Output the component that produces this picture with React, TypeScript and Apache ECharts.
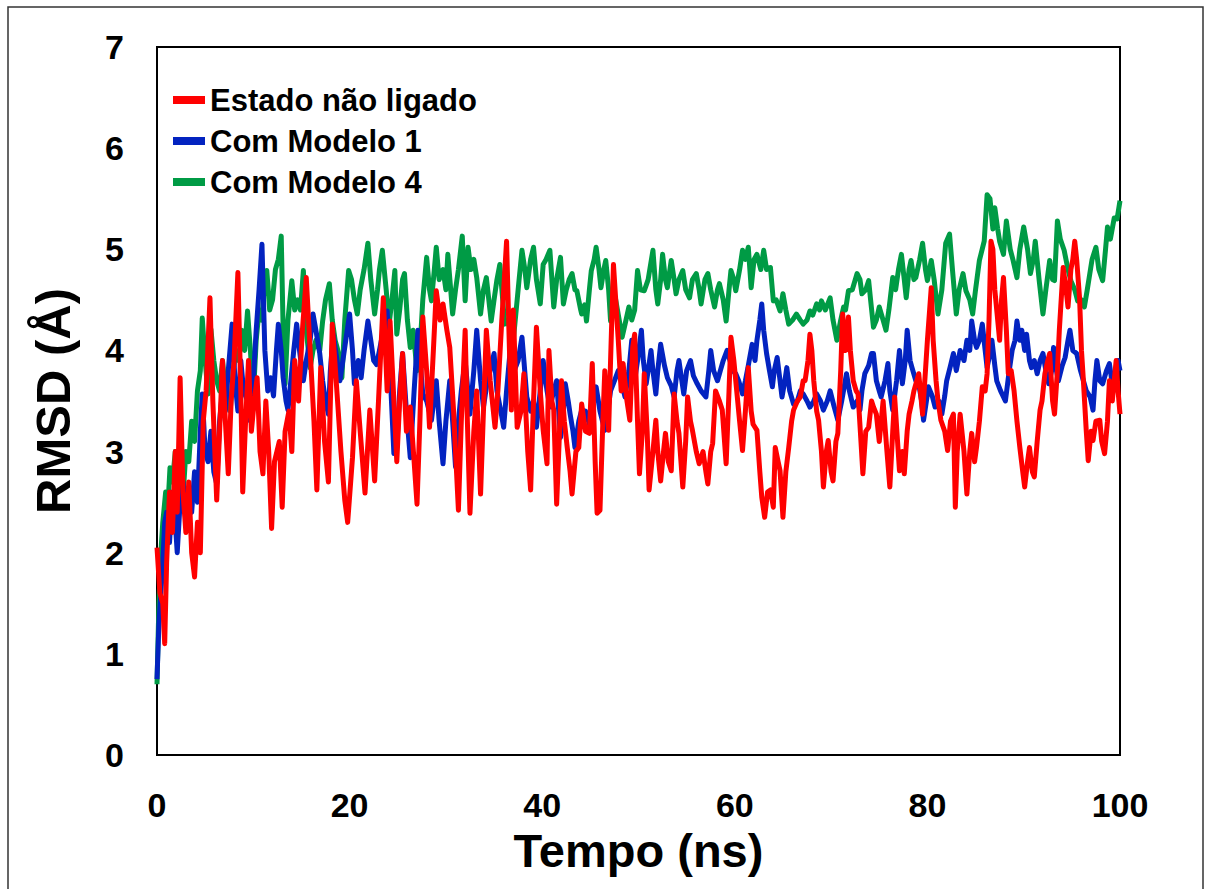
import React, { useEffect, useRef } from "react";
import * as echarts from "echarts";

const seriesNames = ["Estado não ligado", "Com Modelo 1", "Com Modelo 4"];
const xTicks = [0, 20, 40, 60, 80, 100];
const yTicks = [0, 1, 2, 3, 4, 5, 6, 7];

const redT = [
  0, 0.3, 0.6, 0.8, 1.0, 1.3, 1.6, 1.9, 2.1, 2.4, 2.7, 3.0, 3.3, 3.6, 3.9, 4.2, 4.5, 4.8, 5.1, 5.5,
  5.8, 6.2, 6.5, 6.8, 7.1, 7.4, 7.7, 8.0, 8.4, 8.7, 8.9, 9.2, 9.5, 9.8, 10.1, 10.4, 10.7, 11.0, 11.3, 11.6,
  11.9, 12.2, 12.7, 13.0, 13.3, 13.7, 14.0, 14.3, 14.7, 15.1, 15.5, 16.0, 16.3, 16.6, 17.0, 17.4, 17.8, 18.2, 18.7, 19.1,
  19.5, 19.8, 20.3, 20.7, 21.1, 21.6, 22.1, 22.6, 23.0, 23.5, 23.9, 24.2, 24.6, 24.9, 25.2, 25.5, 25.9, 26.3, 26.7, 27.0,
  27.3, 27.6, 28.0, 28.3, 28.7, 29.0, 29.4, 29.7, 30.1, 30.4, 30.8, 31.0, 31.3, 31.6, 32.0, 32.2, 32.5, 32.9, 33.2, 33.6,
  33.9, 34.2, 34.6, 35.1, 35.4, 35.8, 36.0, 36.3, 36.6, 36.8, 37.0, 37.4, 37.8, 38.1, 38.5, 38.8, 39.1, 39.4, 39.8, 40.1,
  40.5, 40.7, 41.0, 41.2, 41.5, 41.8, 42.0, 42.3, 42.6, 42.9, 43.1, 43.5, 43.8, 44.1, 44.5, 44.9, 45.2, 45.5, 45.7, 46.0,
  46.3, 46.5, 46.9, 47.1, 47.4, 47.7, 47.9, 48.2, 48.4, 48.8, 49.1, 49.4, 49.6, 49.9, 50.1, 50.4, 50.6, 50.9, 51.1, 51.5,
  51.8, 52.0, 52.3, 52.6, 52.8, 53.1, 53.4, 53.7, 54.0, 54.2, 54.6, 54.9, 55.1, 55.4, 55.6, 56.0, 56.3, 56.7, 57.0, 57.2,
  57.5, 57.7, 58.0, 58.4, 58.7, 59.1, 59.4, 59.6, 59.9, 60.1, 60.5, 60.8, 61.1, 61.4, 61.7, 61.9, 62.3, 62.6, 62.8, 63.1,
  63.4, 63.7, 64.0, 64.2, 64.5, 64.7, 65.0, 65.3, 65.6, 65.9, 66.1, 66.5, 66.8, 67.1, 67.3, 67.6, 67.8, 68.0, 68.2, 68.5,
  68.7, 69.0, 69.2, 69.5, 69.7, 70.0, 70.2, 70.5, 70.7, 71.0, 71.2, 71.5, 71.8, 72.0, 72.3, 72.6, 72.8, 73.1, 73.3, 73.6,
  73.9, 74.2, 74.4, 74.7, 75.0, 75.4, 75.8, 76.1, 76.4, 76.6, 76.9, 77.1, 77.4, 77.6, 77.9, 78.1, 78.4, 78.6, 78.9, 79.1,
  79.5, 79.8, 80.0, 80.4, 80.6, 80.9, 81.1, 81.4, 81.8, 82.1, 82.4, 82.7, 82.9, 83.1, 83.4, 83.8, 84.1, 84.4, 84.6, 84.9,
  85.1, 85.4, 85.7, 86.0, 86.2, 86.4, 86.6, 86.8, 87.0, 87.2, 87.5, 87.7, 87.9, 88.2, 88.4, 88.7, 89.0, 89.3, 89.6, 89.9,
  90.1, 90.4, 90.6, 90.9, 91.1, 91.4, 91.7, 91.9, 92.2, 92.5, 92.7, 93.0, 93.2, 93.5, 93.7, 94.1, 94.4, 94.6, 94.9, 95.1,
  95.3, 95.5, 95.8, 96.0, 96.2, 96.5, 96.7, 97.0, 97.2, 97.5, 97.9, 98.1, 98.4, 98.7, 98.9, 99.2, 99.6, 99.8, 100,
];
const redV = [
  2.05, 1.6, 1.5, 1.1, 1.9, 2.6, 2.2, 3.0, 2.4, 3.73, 2.6, 2.2, 2.7, 2.0, 1.76, 2.3, 2.0, 3.3, 3.6, 4.52,
  3.5, 2.52, 3.2, 3.9, 3.3, 2.78, 3.5, 3.9, 4.77, 3.6, 2.6, 3.3, 3.9, 3.2, 3.5, 3.73, 3.0, 2.78, 3.5, 3.0,
  2.24, 2.9, 3.1, 2.45, 3.2, 3.4, 3.0, 3.9, 3.5, 4.2, 4.72, 3.83, 3.3, 2.62, 3.83, 3.1, 2.7, 4.26, 3.57, 3.0,
  2.52, 2.3, 2.94, 3.7, 3.2, 2.59, 3.41, 2.71, 3.5, 4.52, 3.6, 4.29, 3.5, 2.9, 3.5, 3.97, 3.2, 3.44, 2.9, 2.48,
  3.3, 4.33, 3.8, 3.24, 4.0, 4.59, 4.3, 4.46, 4.2, 4.03, 3.4, 3.0, 2.42, 3.3, 4.2, 3.4, 2.39, 3.2, 3.6, 2.58,
  3.4, 4.2, 3.7, 3.24, 3.6, 4.29, 4.6, 5.08, 4.0, 3.41, 4.4, 3.24, 3.4, 3.77, 3.0, 2.62, 3.5, 4.23, 3.6, 3.21,
  2.88, 4.0, 3.5, 3.41, 2.48, 3.2, 3.7, 3.3, 3.04, 2.8, 2.58, 3.0, 3.04, 3.47, 3.2, 3.18, 3.87, 2.9, 2.39, 2.42,
  3.3, 3.8, 3.21, 3.9, 4.85, 4.4, 4.1, 3.6, 3.87, 3.5, 3.31, 4.03, 4.16, 3.3, 2.78, 3.2, 3.77, 3.2, 2.62, 3.0,
  3.31, 3.0, 2.71, 3.0, 3.18, 2.9, 2.81, 3.57, 3.3, 3.18, 2.65, 3.1, 3.54, 3.3, 3.21, 3.0, 2.88, 3.0, 2.8, 2.68,
  3.0, 3.08, 3.6, 3.5, 3.41, 2.88, 3.6, 4.13, 3.9, 3.7, 3.3, 3.01, 3.4, 3.83, 3.4, 3.27, 3.21, 2.8, 2.55, 2.35,
  2.6, 2.62, 2.45, 3.04, 2.9, 2.81, 2.35, 2.8, 3.04, 3.3, 3.41, 3.5, 3.54, 3.7, 3.7, 3.9, 4.16, 4.0, 3.7, 3.4,
  3.31, 3.0, 2.65, 3.0, 3.11, 2.8, 2.71, 3.1, 3.18, 3.8, 4.36, 4.0, 4.33, 4.0, 3.7, 3.6, 3.57, 3.1, 2.78, 3.2,
  3.24, 3.5, 3.44, 3.37, 3.1, 3.5, 3.0, 2.65, 3.2, 3.54, 3.1, 2.81, 3.0, 2.78, 3.2, 3.37, 3.5, 3.6, 3.7, 3.77,
  3.37, 3.8, 4.1, 4.62, 4.1, 3.7, 3.5, 3.31, 3.2, 3.01, 3.3, 3.37, 2.45, 3.0, 3.37, 3.0, 2.58, 3.0, 3.18, 2.9,
  3.04, 3.3, 3.64, 3.6, 3.77, 4.3, 5.08, 5.0, 4.6, 4.4, 4.1, 4.5, 4.72, 4.2, 3.77, 3.8, 3.6, 3.3, 3.04, 2.8,
  2.65, 2.9, 3.04, 2.8, 2.75, 3.1, 3.41, 3.5, 3.77, 3.9, 3.97, 3.5, 3.37, 3.8, 4.2, 4.82, 4.6, 4.43, 4.8, 4.9,
  5.08, 4.9, 4.52, 4.0, 3.7, 3.2, 2.91, 3.2, 3.11, 3.3, 3.31, 3.1, 2.98, 3.3, 3.7, 3.5, 3.9, 3.6, 3.37,
];

const blueT = [
  0, 0.2, 0.4, 0.6, 0.8, 1.0, 1.3, 1.6, 1.9, 2.1, 2.4, 2.7, 3.0, 3.3, 3.6, 3.9, 4.2, 4.5, 4.7, 5.0,
  5.3, 5.6, 5.9, 6.2, 6.5, 6.8, 7.1, 7.4, 7.8, 8.1, 8.4, 8.7, 9.0, 9.4, 9.7, 10.0, 10.3, 10.6, 10.9, 11.2,
  11.5, 11.8, 12.1, 12.4, 12.6, 12.9, 13.1, 13.4, 13.6, 14.0, 14.2, 14.5, 14.8, 15.2, 15.5, 15.9, 16.2, 16.5, 16.9, 17.2,
  17.5, 17.8, 18.0, 18.3, 18.7, 19.0, 19.3, 19.6, 20.0, 20.3, 20.5, 20.9, 21.2, 21.5, 21.9, 22.2, 22.5, 22.8, 23.1, 23.5,
  23.9, 24.2, 24.6, 24.9, 25.2, 25.5, 25.9, 26.3, 26.7, 27.1, 27.4, 27.6, 28.0, 28.5, 29.0, 29.3, 29.7, 30.0, 30.4, 30.7,
  31.0, 31.3, 31.6, 32.0, 32.5, 32.9, 33.2, 33.6, 33.9, 34.3, 34.6, 35.0, 35.3, 35.7, 36.0, 36.3, 36.7, 37.1, 37.5, 37.9,
  38.1, 38.4, 38.8, 39.1, 39.4, 39.8, 40.1, 40.5, 40.8, 41.2, 41.5, 41.9, 42.2, 42.4, 42.7, 42.9, 43.2, 43.4, 43.8, 44.1,
  44.5, 44.9, 45.3, 45.6, 46.0, 46.5, 46.8, 47.1, 47.5, 47.9, 48.2, 48.6, 49.0, 49.3, 49.6, 49.9, 50.3, 50.5, 50.8, 51.0,
  51.3, 51.5, 51.8, 52.0, 52.3, 52.7, 53.0, 53.4, 53.7, 54.0, 54.2, 54.5, 54.7, 55.0, 55.4, 55.7, 56.1, 56.5, 57.0, 57.3,
  57.5, 57.8, 58.2, 58.5, 58.8, 59.2, 59.5, 59.8, 60.1, 60.4, 60.8, 61.1, 61.4, 61.8, 62.1, 62.3, 62.6, 62.8, 63.0, 63.3,
  63.6, 63.9, 64.1, 64.4, 64.7, 64.9, 65.2, 65.4, 65.7, 66.1, 66.5, 66.8, 67.1, 67.5, 67.8, 68.2, 68.5, 68.9, 69.2, 69.6,
  69.9, 70.3, 70.7, 71.1, 71.6, 71.9, 72.3, 72.7, 73.0, 73.2, 73.5, 73.9, 74.2, 74.4, 74.7, 75.0, 75.2, 75.6, 75.9, 76.1,
  76.4, 76.8, 77.1, 77.4, 77.7, 77.9, 78.2, 78.4, 78.8, 79.1, 79.4, 79.6, 79.9, 80.1, 80.5, 80.8, 81.2, 81.5, 81.8, 82.0,
  82.4, 82.7, 83.0, 83.4, 83.8, 84.1, 84.4, 84.6, 84.9, 85.1, 85.4, 85.7, 86.0, 86.2, 86.5, 86.7, 87.0, 87.2, 87.6, 88.1,
  88.5, 88.8, 89.1, 89.3, 89.6, 89.8, 90.1, 90.3, 90.6, 90.8, 91.1, 91.4, 91.7, 92.0, 92.3, 92.6, 92.9, 93.1, 93.4, 93.6,
  94.0, 94.3, 94.6, 94.8, 95.1, 95.5, 95.9, 96.2, 96.5, 96.9, 97.2, 97.4, 97.6, 97.9, 98.2, 98.6, 98.9, 99.3, 99.6, 99.8,
  100,
];
const blueV = [
  0.75, 1.3, 1.6, 1.9, 2.3, 2.4, 2.1, 2.6, 2.3, 2.0, 2.5, 2.7, 2.3, 2.6, 2.4, 2.8, 2.5, 3.2, 3.57, 3.0,
  2.9, 3.2, 2.8, 2.68, 3.3, 3.6, 3.4, 3.8, 4.26, 3.7, 3.4, 3.9, 3.6, 3.5, 3.3, 3.7, 4.2, 4.6, 5.05, 4.0,
  3.6, 3.73, 3.55, 4.0, 4.26, 4.0, 3.73, 3.5, 3.41, 3.8, 4.0, 4.26, 4.0, 3.7, 3.9, 4.1, 4.36, 4.2, 3.97, 3.7,
  3.5, 3.37, 3.8, 4.16, 3.9, 3.7, 3.9, 4.1, 4.36, 4.0, 3.67, 3.9, 3.73, 4.0, 4.29, 4.1, 3.9, 3.86, 4.0, 4.2,
  4.39, 3.8, 2.98, 3.04, 3.6, 3.97, 3.4, 2.94, 3.6, 4.2, 3.8, 3.57, 3.5, 3.31, 3.7, 3.3, 2.88, 3.3, 3.7, 3.3,
  2.85, 3.3, 3.6, 3.9, 3.37, 3.8, 4.2, 3.7, 3.44, 3.7, 3.8, 3.97, 3.6, 3.4, 3.24, 3.6, 4.03, 3.8, 3.9, 4.13,
  3.9, 3.54, 3.4, 3.5, 3.24, 3.6, 3.9, 3.6, 3.44, 3.6, 3.7, 3.14, 3.4, 3.67, 3.5, 3.37, 3.2, 3.04, 3.3, 3.41,
  3.4, 3.27, 3.5, 3.64, 3.4, 3.21, 3.4, 3.6, 3.7, 3.8, 3.7, 3.54, 3.8, 4.1, 3.7, 3.9, 4.2, 3.9, 3.67, 3.8,
  4.0, 3.8, 3.57, 3.8, 4.06, 3.85, 3.73, 3.65, 3.54, 3.8, 3.9, 3.7, 3.57, 3.8, 3.9, 3.75, 3.67, 3.6, 3.54, 3.8,
  4.0, 3.8, 3.7, 3.8, 3.9, 4.0, 3.9, 3.8, 3.77, 3.7, 3.57, 3.7, 3.85, 4.06, 3.9, 4.1, 4.3, 4.46, 4.2, 3.97,
  3.8, 3.64, 3.8, 3.93, 3.7, 3.54, 3.7, 3.83, 3.6, 3.47, 3.5, 3.6, 3.57, 3.5, 3.44, 3.5, 3.57, 3.5, 3.41, 3.5,
  3.6, 3.45, 3.31, 3.5, 3.77, 3.6, 3.44, 3.5, 3.41, 3.6, 3.77, 3.85, 3.97, 3.97, 3.7, 3.6, 3.54, 3.7, 3.87, 3.6,
  3.41, 3.7, 4.0, 3.67, 3.9, 4.2, 3.9, 3.83, 3.7, 3.67, 3.5, 3.31, 3.5, 3.64, 3.55, 3.44, 3.5, 3.37, 3.55, 3.7,
  3.85, 3.97, 3.8, 4.0, 3.9, 4.1, 4.0, 4.29, 4.1, 4.03, 4.1, 4.26, 4.0, 3.83, 3.97, 4.1, 3.85, 3.7, 3.6, 3.5,
  3.8, 4.0, 4.1, 4.29, 4.1, 4.2, 4.0, 4.16, 3.9, 3.83, 3.9, 3.77, 3.9, 3.97, 3.8, 3.67, 3.8, 4.03, 3.8, 3.7,
  3.85, 3.93, 4.1, 4.2, 4.0, 3.97, 3.8, 3.7, 3.6, 3.54, 3.41, 3.7, 3.9, 3.7, 3.67, 3.8, 3.87, 3.6, 3.7, 3.9,
  3.8,
];

const greenT = [
  0, 0.2, 0.4, 0.6, 0.9, 1.1, 1.35, 1.6, 1.9, 2.2, 2.5, 2.7, 3.0, 3.3, 3.6, 3.9, 4.2, 4.5, 4.7, 5.0,
  5.3, 5.6, 5.9, 6.2, 6.5, 6.8, 7.1, 7.4, 7.6, 7.9, 8.2, 8.5, 8.8, 9.1, 9.4, 9.7, 10.0, 10.3, 10.6, 10.9,
  11.1, 11.4, 11.7, 12.0, 12.3, 12.6, 12.9, 13.1, 13.3, 13.6, 14.0, 14.3, 14.6, 14.9, 15.2, 15.5, 15.9, 16.2, 16.5, 16.9,
  17.2, 17.5, 17.9, 18.2, 18.5, 18.7, 19.0, 19.2, 19.5, 19.9, 20.2, 20.5, 20.8, 21.1, 21.5, 21.9, 22.2, 22.6, 22.9, 23.1,
  23.4, 23.8, 24.1, 24.4, 24.7, 24.9, 25.2, 25.5, 25.7, 26.0, 26.3, 26.6, 27.0, 27.3, 27.6, 28.0, 28.3, 28.5, 28.8, 29.0,
  29.3, 29.7, 30.0, 30.2, 30.5, 30.7, 31.0, 31.3, 31.7, 32.0, 32.3, 32.6, 32.9, 33.2, 33.6, 33.9, 34.2, 34.7, 35.0, 35.3,
  35.6, 35.9, 36.1, 36.4, 36.7, 37.0, 37.3, 37.6, 37.9, 38.2, 38.4, 38.8, 39.1, 39.4, 39.8, 40.1, 40.4, 40.8, 41.2, 41.5,
  41.9, 42.2, 42.5, 42.8, 43.1, 43.4, 43.6, 44.0, 44.1, 44.4, 44.6, 44.9, 45.1, 45.4, 45.6, 45.9, 46.1, 46.4, 46.6, 46.9,
  47.1, 47.4, 47.6, 48.0, 48.3, 48.7, 49.0, 49.3, 49.6, 49.9, 50.2, 50.6, 51.0, 51.5, 51.8, 52.0, 52.3, 52.5, 52.8, 53.0,
  53.4, 53.7, 53.9, 54.2, 54.6, 54.9, 55.3, 55.6, 56.0, 56.3, 56.5, 56.9, 57.2, 57.5, 57.9, 58.2, 58.4, 58.8, 59.1, 59.4,
  59.6, 59.9, 60.1, 60.5, 60.8, 61.1, 61.4, 61.7, 62.0, 62.3, 62.7, 63.0, 63.3, 63.7, 64.0, 64.3, 64.7, 65.0, 65.3, 65.6,
  66.0, 66.4, 66.8, 67.1, 67.5, 67.8, 68.1, 68.5, 68.8, 69.0, 69.4, 69.9, 70.2, 70.6, 71.0, 71.3, 71.5, 71.8, 72.2, 72.7,
  73.0, 73.2, 73.6, 73.9, 74.1, 74.4, 74.7, 75.0, 75.4, 75.7, 76.0, 76.4, 76.7, 77.0, 77.3, 77.6, 77.8, 78.1, 78.3, 78.6,
  78.8, 79.2, 79.5, 79.8, 80.0, 80.4, 80.7, 81.1, 81.5, 81.9, 82.3, 82.6, 83.0, 83.3, 83.7, 84.0, 84.4, 84.7, 85.0, 85.4,
  85.9, 86.2, 86.5, 86.8, 87.0, 87.3, 87.5, 87.9, 88.2, 88.6, 88.9, 89.3, 89.6, 90.0, 90.4, 90.7, 91.0, 91.2, 91.6, 92.0,
  92.3, 92.7, 93.0, 93.2, 93.5, 93.8, 94.2, 94.6, 94.9, 95.3, 95.6, 96.0, 96.3, 96.6, 96.8, 97.1, 97.5, 97.8, 98.2, 98.5,
  98.7, 99.0, 99.4, 99.7, 100,
];
const greenV = [
  0.7, 1.5, 2.0, 2.3, 2.6, 2.4, 2.84, 2.7, 3.0, 2.7, 2.9, 2.55, 3.0, 2.9, 3.3, 3.1, 3.6, 3.8, 4.32, 3.9,
  3.57, 4.21, 3.9, 3.7, 3.6, 3.9, 3.6, 3.5, 3.4, 3.8, 4.0, 3.9, 4.2, 4.0, 4.39, 4.0, 3.53, 4.1, 4.4, 4.3,
  4.6, 4.79, 4.4, 4.5, 4.8, 4.9, 5.13, 4.2, 3.67, 4.3, 4.69, 4.4, 4.5, 4.4, 4.79, 4.2, 3.83, 4.0, 4.1, 4.0,
  4.29, 4.5, 4.66, 4.3, 4.1, 4.03, 3.9, 3.73, 4.3, 4.79, 4.7, 4.5, 4.36, 4.6, 4.8, 5.06, 4.7, 4.36, 4.6, 4.8,
  4.99, 4.6, 4.26, 4.5, 4.79, 4.16, 4.4, 4.7, 4.76, 4.3, 4.03, 4.2, 3.8, 4.0, 4.5, 4.92, 4.6, 4.49, 4.8, 5.02,
  4.7, 4.8, 4.6, 4.95, 4.6, 4.36, 4.6, 4.8, 5.13, 4.49, 5.02, 4.8, 4.9, 4.72, 4.36, 4.6, 4.72, 4.29, 4.5, 4.7,
  4.85, 4.5, 4.26, 4.3, 4.2, 4.1, 4.4, 4.7, 4.99, 4.8, 4.62, 4.9, 5.02, 4.7, 4.46, 4.85, 4.9, 4.99, 4.43, 4.7,
  4.92, 4.46, 4.6, 4.7, 4.76, 4.6, 4.59, 4.4, 4.36, 4.45, 4.29, 4.6, 4.79, 4.9, 5.02, 4.8, 4.62, 4.8, 4.89, 4.6,
  4.29, 4.45, 4.52, 4.3, 4.13, 4.3, 4.43, 4.3, 4.4, 4.79, 4.6, 4.59, 4.7, 4.99, 4.6, 4.46, 4.7, 4.95, 4.7, 4.62,
  4.89, 4.7, 4.56, 4.7, 4.79, 4.6, 4.52, 4.7, 4.76, 4.6, 4.46, 4.7, 4.76, 4.6, 4.43, 4.6, 4.66, 4.5, 4.29, 4.6,
  4.79, 4.7, 4.59, 4.8, 4.99, 4.9, 5.02, 4.62, 4.9, 4.95, 4.8, 4.99, 4.8, 4.82, 4.49, 4.5, 4.39, 4.56, 4.4, 4.26,
  4.3, 4.36, 4.3, 4.26, 4.3, 4.39, 4.35, 4.46, 4.4, 4.49, 4.4, 4.52, 4.3, 4.1, 4.3, 4.43, 4.4, 4.59, 4.6, 4.76,
  4.7, 4.56, 4.6, 4.69, 4.5, 4.23, 4.3, 4.43, 4.3, 4.2, 4.4, 4.72, 4.6, 4.8, 4.95, 4.7, 4.52, 4.8, 4.89, 4.7,
  4.72, 4.9, 5.06, 4.8, 4.69, 4.89, 4.7, 4.36, 4.6, 5.06, 5.15, 4.8, 4.36, 4.6, 4.76, 4.59, 4.5, 4.36, 4.6, 4.89,
  5.08, 5.54, 5.5, 5.2, 5.41, 5.2, 5.08, 4.95, 5.28, 5.0, 4.89, 4.72, 5.0, 5.22, 5.0, 4.76, 4.9, 5.08, 4.7, 4.36,
  4.6, 4.89, 4.7, 4.69, 5.28, 5.1, 4.99, 4.8, 4.69, 4.6, 4.49, 4.5, 4.43, 4.6, 4.72, 4.9, 5.02, 4.8, 4.69, 5.0,
  5.22, 5.1, 5.31, 5.3, 5.48,
];

const colors = ["#ff0000", "#0323c0", "#009b45"];

function pairs(t: number[], v: number[]) {
  return t.map((x, i) => [x, v[i]]);
}

const FONT = "'Liberation Sans', Arial, Helvetica, sans-serif";

export default function App() {
  const ref = useRef<HTMLDivElement>(null);
  useEffect(() => {
    if (!ref.current) return;
    const chart = echarts.init(ref.current, null, { renderer: "svg" });
    const seriesData = [pairs(redT, redV), pairs(blueT, blueV), pairs(greenT, greenV)];
    const order = [2, 1, 0];
    chart.setOption({
      animation: false,
      backgroundColor: "#ffffff",
      grid: {
        left: 157,
        right: 86,
        top: 47,
        bottom: 134,
        show: true,
        borderColor: "#000",
        borderWidth: 2,
        backgroundColor: "transparent",
      },
      legend: {
        data: seriesNames.map((n, i) => ({ name: n, itemStyle: { color: colors[i] } })),
        orient: "vertical",
        left: 168,
        top: 79,
        itemWidth: 32,
        itemHeight: 8,
        itemGap: 9,
        icon: "rect",
        selectedMode: false,
        textStyle: {
          fontFamily: FONT,
          fontWeight: "bold",
          fontSize: 31,
          color: "#000",
          lineHeight: 32,
          padding: [0, 0, 0, 0],
        },
      },
      xAxis: {
        type: "value",
        min: xTicks[0],
        max: xTicks[xTicks.length - 1],
        interval: 20,
        name: "Tempo (ns)",
        nameLocation: "middle",
        nameGap: 72,
        nameTextStyle: { fontFamily: FONT, fontWeight: "bold", fontSize: 47, color: "#000" },
        axisLine: { show: true, lineStyle: { color: "#000", width: 2 } },
        axisTick: { show: false },
        splitLine: { show: false },
        axisLabel: { fontFamily: FONT, fontWeight: "bold", fontSize: 34, color: "#000", margin: 33 },
      },
      yAxis: {
        type: "value",
        min: yTicks[0],
        max: yTicks[yTicks.length - 1],
        interval: 1,
        name: "RMSD (Å)",
        nameLocation: "middle",
        nameRotate: 90,
        nameGap: 80,
        nameTextStyle: { fontFamily: FONT, fontWeight: "bold", fontSize: 49, color: "#000" },
        axisLine: { show: true, lineStyle: { color: "#000", width: 2 } },
        axisTick: { show: false },
        splitLine: { show: false },
        axisLabel: { fontFamily: FONT, fontWeight: "bold", fontSize: 34, color: "#000", margin: 33 },
      },
      graphic: [
        {
          type: "rect",
          shape: { x: 8, y: 7, width: 1195, height: 900 },
          style: { fill: "none", stroke: "#333", lineWidth: 1.5 },
          silent: true,
        },
      ],
      series: order.map((i) => ({
        name: seriesNames[i],
        type: "line",
        data: seriesData[i],
        showSymbol: false,
        symbol: "none",
        lineStyle: { color: colors[i], width: 5, join: "round" },
        itemStyle: { color: colors[i] },
        z: 2 + (2 - i),
      })),
    });
    return () => chart.dispose();
  }, []);
  return (
    <div
      ref={ref}
      style={{ position: "absolute", left: 0, top: 0, width: 1206, height: 889 }}
    />
  );
}
